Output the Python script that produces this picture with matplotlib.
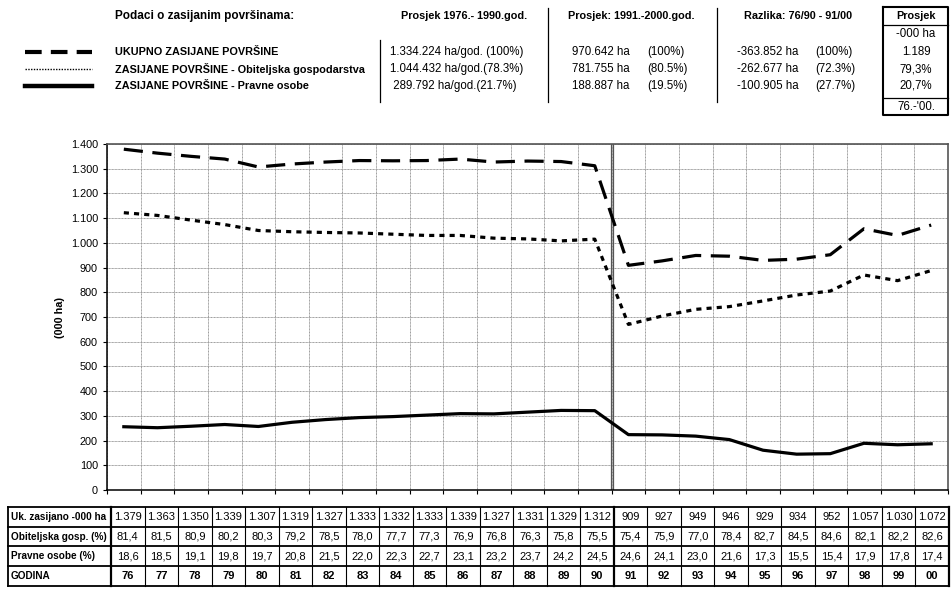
import matplotlib.pyplot as plt
from matplotlib.ticker import FuncFormatter, FixedLocator

plt.rcParams['font.family'] = ['Liberation Sans', 'DejaVu Sans']

# godine i vrijednosti (000 ha)
years = ['76', '77', '78', '79', '80', '81', '82', '83', '84', '85', '86', '87', '88',
         '89', '90', '91', '92', '93', '94', '95', '96', '97', '98', '99', '00']
uk_zasijano = [1379, 1363, 1350, 1339, 1307, 1319, 1327, 1333, 1332, 1333, 1339, 1327, 1331,
               1329, 1312, 909, 927, 949, 946, 929, 934, 952, 1057, 1030, 1072]
obiteljska = [1122, 1111, 1092, 1074, 1050, 1045, 1042, 1040, 1035, 1030, 1030, 1019, 1016,
              1008, 1015, 670, 704, 731, 742, 765, 789, 805, 870, 847, 888]
pravne = [256, 252, 258, 265, 257, 274, 285, 293, 297, 303, 309, 308, 315,
          322, 321, 224, 223, 218, 204, 161, 145, 147, 189, 183, 187]
obit_pct = ['81,4', '81,5', '80,9', '80,2', '80,3', '79,2', '78,5', '78,0', '77,7', '77,3', '76,9',
            '76,8', '76,3', '75,8', '75,5', '75,4', '75,9', '77,0', '78,4', '82,7', '84,5', '84,6',
            '82,1', '82,2', '82,6']
pravne_pct = ['18,6', '18,5', '19,1', '19,8', '19,7', '20,8', '21,5', '22,0', '22,3', '22,7', '23,1',
              '23,2', '23,7', '24,2', '24,5', '24,6', '24,1', '23,0', '21,6', '17,3', '15,5', '15,4',
              '17,9', '17,8', '17,4']

row_labels = ['Uk. zasijano -000 ha', 'Obiteljska gosp. (%)', 'Pravne osobe (%)', 'GODINA']
legend_labels = ['UKUPNO ZASIJANE POVRŠINE',
                 'ZASIJANE POVRŠINE - Obiteljska gospodarstva',
                 'ZASIJANE POVRŠINE - Pravne osobe']
col1 = ['1.334.224 ha/god. (100%)', '1.044.432 ha/god.(78.3%)', ' 289.792 ha/god.(21.7%)']
col2_ha = ['970.642 ha', '781.755 ha', '188.887 ha']
col2_pct = ['(100%)', '(80.5%)', '(19.5%)']
col3_ha = ['-363.852 ha', '-262.677 ha', '-100.905 ha']
col3_pct = ['(100%)', '(72.3%)', '(27.7%)']
box_vals = ['1.189', '79,3%', '20,7%']

W, H = 951, 592
fig = plt.figure(figsize=(W / 100, H / 100), dpi=100)

# podloga u pikselima za zaglavlje i tablicu
bg = fig.add_axes([0, 0, 1, 1])
bg.set_xlim(0, W)
bg.set_ylim(H, 0)
bg.axis('off')

fs = 7.8
fv = 8.3
bg.text(115, 16, 'Podaci o zasijanim površinama:', fontsize=8.5, fontweight='bold', va='center')
bg.text(464, 16, 'Prosjek 1976.- 1990.god.', fontsize=fs, fontweight='bold', va='center', ha='center')
bg.text(631, 16, 'Prosjek: 1991.-2000.god.', fontsize=fs, fontweight='bold', va='center', ha='center')
bg.text(798, 16, 'Razlika: 76/90 - 91/00', fontsize=fs, fontweight='bold', va='center', ha='center')
for xv in [380, 548, 717]:
    bg.plot([xv, xv], [40 if xv == 380 else 8, 102], color='black', lw=0.9)

row_y = [52, 69, 86]
styles = [dict(ls=(0, (4, 2.2)), lw=3.0), dict(ls=(0, (1, 1)), lw=1.0), dict(ls='-', lw=3.2)]
for i in range(3):
    y = row_y[i]
    bg.plot([25, 92], [y, y], color='black', **styles[i])
    bg.text(115, y, legend_labels[i], fontsize=fs, fontweight='bold', va='center')
    bg.text(390, y, col1[i], fontsize=fv, va='center')
    bg.text(572, y, col2_ha[i], fontsize=fv, va='center')
    bg.text(647, y, col2_pct[i], fontsize=fv, va='center')
    bg.text(737, y, col3_ha[i], fontsize=fv, va='center')
    bg.text(815, y, col3_pct[i], fontsize=fv, va='center')
    bg.text(916, y, box_vals[i], fontsize=fv, va='center', ha='center')

# okvir "Prosjek"
bg.plot([883, 948, 948, 883, 883], [7, 7, 115, 115, 7], color='black', lw=1.5)
bg.plot([883, 948], [25, 25], color='black', lw=0.9)
bg.plot([883, 948], [98, 98], color='black', lw=0.9)
bg.text(916, 16, 'Prosjek', fontsize=fs, fontweight='bold', va='center', ha='center')
bg.text(916, 34, '-000 ha', fontsize=fv, va='center', ha='center')
bg.text(916, 107, "76.-'00.", fontsize=fv, va='center', ha='center')

# tablica
t_left, t_lab, t_right = 8, 111, 949
t_top, rh = 507, 19.7
cw = (t_right - t_lab) / len(years)
nrows = 4
for r in range(nrows + 1):
    y = t_top + r * rh
    bg.plot([t_left, t_right], [y, y], color='black', lw=1.3)
bg.plot([t_left, t_left], [t_top, t_top + nrows * rh], color='black', lw=1.3)
for c in range(len(years) + 1):
    x = t_lab + c * cw
    bg.plot([x, x], [t_top, t_top + nrows * rh], color='black', lw=1.6 if c in (0, 15, 25) else 0.8)

rows = [[f'{v:,}'.replace(',', '.') for v in uk_zasijano], obit_pct, pravne_pct, years]
for r in range(nrows):
    yc = t_top + (r + 0.5) * rh
    bold = r == 3
    bg.text(t_left + 3, yc, row_labels[r], fontsize=7.2, fontweight='bold', va='center')
    for c in range(len(years)):
        bg.text(t_lab + (c + 0.5) * cw, yc, rows[r][c], fontsize=8, va='center', ha='center',
                fontweight='bold' if bold else 'normal')

# grafikon
ax = fig.add_axes([107 / W, (H - 490) / H, (948 - 107) / W, (490 - 144) / H])
x = list(range(len(years)))
ax.plot(x, uk_zasijano, color='black', lw=2.3, ls=(0, (6, 3)), zorder=3)
ax.plot(x, obiteljska, color='black', lw=2.3, ls=(0, (1.6, 1.6)), zorder=3)
ax.plot(x, pravne, color='black', lw=2.3, ls='-', zorder=3)

ax.set_xlim(-0.5, len(years) - 0.5)
ax.set_ylim(0, 1400)
ax.set_yticks(range(0, 1401, 100))
ax.yaxis.set_major_formatter(FuncFormatter(lambda v, p: f'{int(v):,}'.replace(',', '.')))
ax.xaxis.set_major_locator(FixedLocator([k - 0.5 for k in range(len(years) + 1)]))
ax.set_xticklabels([])
ax.tick_params(axis='y', labelsize=fs, length=3, width=0.8)
ax.tick_params(axis='x', length=3, width=0.8)
ax.grid(True, color='#9a9a9a', lw=0.7, ls=(0, (1, 0.5)))
ax.axvline(14.47, color='#555555', lw=0.9)
ax.axvline(14.54, color='#555555', lw=0.9)
for s in ['top', 'right']:
    ax.spines[s].set_color('#555555')
    ax.spines[s].set_linewidth(1.2)
for s in ['left', 'bottom']:
    ax.spines[s].set_color('black')
    ax.spines[s].set_linewidth(1.1)
ax.set_ylabel('(000 ha)', fontsize=fs, fontweight='bold', labelpad=4)

fig.savefig('out.png', dpi=100)
